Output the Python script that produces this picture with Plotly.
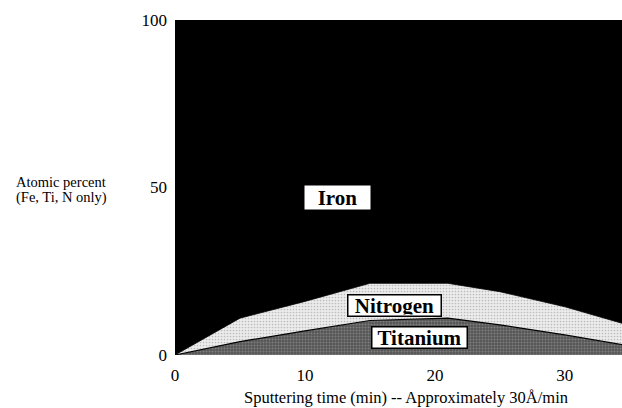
import plotly.graph_objects as go

# Data
times = [0, 5, 10, 15, 21, 25, 30, 35]
titanium = [0, 4.0, 7.2, 10.3, 11.0, 9.0, 6.0, 2.7]
nitrogen = [0, 7.0, 8.8, 11.1, 10.4, 9.9, 8.4, 6.1]
iron = [100 - t - n for t, n in zip(titanium, nitrogen)]

y_ticks = [0, 50, 100]
x_ticks = [0, 10, 20, 30]

SERIF = "Liberation Serif, Times New Roman, serif"

fig = go.Figure()
fig.add_trace(go.Scatter(
    x=times, y=titanium, name="Titanium", stackgroup="s", mode="lines",
    line=dict(color="black", width=1.2),
    fillcolor="#5c5c5c",
    fillpattern=dict(shape=".", bgcolor="#555555", fgcolor="#a8a8a8",
                     size=3, solidity=0.35),
    hoverinfo="skip"))
fig.add_trace(go.Scatter(
    x=times, y=nitrogen, name="Nitrogen", stackgroup="s", mode="lines",
    line=dict(color="black", width=0.8),
    fillcolor="#e4e4e4",
    fillpattern=dict(shape=".", bgcolor="#ececec", fgcolor="#8a8a8a",
                     size=3, solidity=0.25),
    hoverinfo="skip"))
fig.add_trace(go.Scatter(
    x=times, y=iron, name="Iron", stackgroup="s", mode="lines",
    line=dict(color="black", width=0.5),
    fillcolor="black",
    hoverinfo="skip"))

box = dict(bgcolor="white", bordercolor="black", borderwidth=1.5,
           font=dict(family=SERIF, size=21, color="black"), showarrow=False,
           xref="x", yref="y")
fig.add_annotation(x=12.5, y=47, text="<b>Iron</b>", width=64, height=22, **box)
fig.add_annotation(x=16.9, y=14.9, text="<b>Nitrogen</b>", width=90, height=18, **box)
fig.add_annotation(x=18.8, y=5.1, text="<b>Titanium</b>", width=92, height=18, **box)

L, T, B = 175, 20, 53
W, H = 622, 408
pw, ph = W - L, H - T - B

def px(xp):
    return (xp - L) / pw

def py(yp):
    return (H - B - yp) / ph

lab = dict(showarrow=False, xref="paper", yref="paper",
           font=dict(family=SERIF, size=14.5, color="black"))
fig.add_annotation(x=px(14), y=py(182), text="Atomic percent",
                   xanchor="left", yanchor="middle", **lab)
fig.add_annotation(x=px(14), y=py(198), text="(Fe, Ti, N only)",
                   xanchor="left", yanchor="middle", **lab)
fig.add_annotation(x=px(406), y=py(397),
                   text="Sputtering time (min) -- Approximately 30Å/min",
                   xanchor="center", yanchor="middle",
                   showarrow=False, xref="paper", yref="paper",
                   font=dict(family=SERIF, size=16.5, color="black"))

fig.update_layout(
    width=W, height=H,
    margin=dict(l=L, r=0, t=T, b=B, pad=0),
    paper_bgcolor="white", plot_bgcolor="white",
    showlegend=False,
    font=dict(family=SERIF, size=17, color="black"),
    xaxis=dict(range=[0, 34.4], tickvals=x_ticks, showgrid=False,
               zeroline=False, showline=False, ticks="",
               ticklabelstandoff=8, fixedrange=True),
    yaxis=dict(range=[0, 100], tickvals=y_ticks, showgrid=False,
               zeroline=False, showline=False, ticks="",
               ticklabelstandoff=7, fixedrange=True),
)

fig.write_html("out.html")
